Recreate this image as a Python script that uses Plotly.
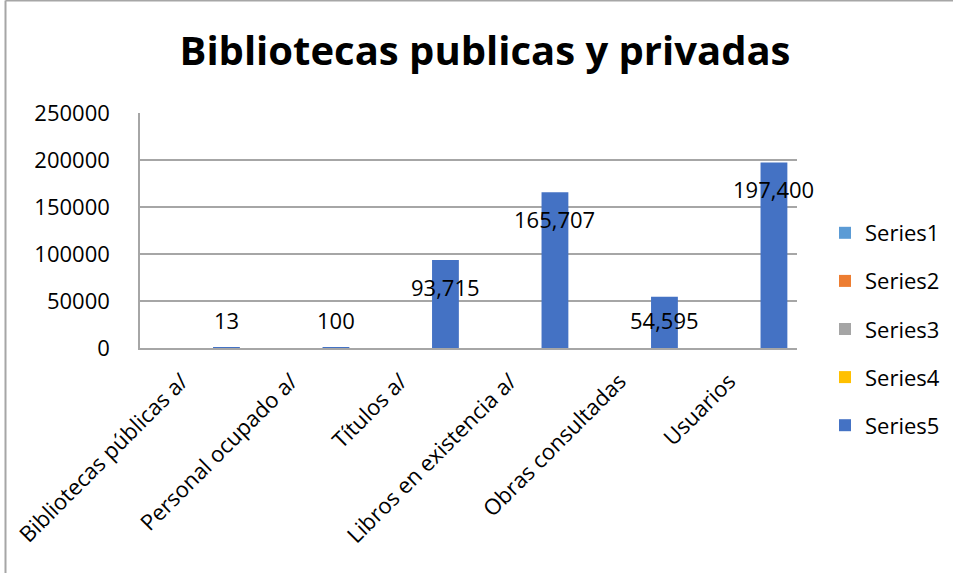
import plotly.graph_objects as go

categories = ["Bibliotecas públicas a/", "Personal ocupado a/", "Títulos a/",
              "Libros en existencia a/", "Obras consultadas", "Usuarios"]
series1 = [None, None, None, None, None, None]
series2 = [None, None, None, None, None, None]
series3 = [None, None, None, None, None, None]
series4 = [None, None, None, None, None, None]
series5 = [13, 100, 93715, 165707, 54595, 197400]
y_ticks = [0, 50000, 100000, 150000, 200000, 250000]

FONT = "Open Sans"
colors = ["#5B9BD5", "#ED7D31", "#A5A5A5", "#FFC000", "#4472C4"]
names = ["Series1", "Series2", "Series3", "Series4", "Series5"]
all_series = [series1, series2, series3, series4, series5]

BAR_OFFSET = 0.167
BAR_WIDTH = 0.245

fig = go.Figure()
for i, (nm, vals, col) in enumerate(zip(names, all_series, colors)):
    kw = {}
    if nm == "Series5":
        kw = dict(offset=BAR_OFFSET, width=BAR_WIDTH)
    fig.add_trace(go.Bar(
        x=list(range(len(categories))), y=vals, name=nm, marker_color=col,
        marker_line_width=0, legendgroup=nm, hoverinfo="skip", **kw))

# data labels (Excel-style "inside end", clamped near the axis for tiny bars)
for i, v in enumerate(series5):
    fig.add_annotation(
        x=i + BAR_OFFSET + BAR_WIDTH / 2, y=max(v - 28700, 29800),
        text=f"{v:,}", showarrow=False, xanchor="center", yanchor="middle",
        font=dict(family=FONT, size=22, color="#000000"))

W, H = 953, 573
L, R, T, B = 140, 156, 113, 225
pw, ph = W - L - R, H - T - B

# outer chart border (left and top visible)
fig.add_shape(type="line", xref="paper", yref="paper",
              x0=(5.5 - L) / pw, x1=(5.5 - L) / pw, y0=(H - B - H - 5) / ph, y1=(H - B - 0.5) / ph,
              line=dict(color="#A6A6A6", width=2))
fig.add_shape(type="line", xref="paper", yref="paper",
              x0=(5.5 - L) / pw, x1=(W + 5 - L) / pw, y0=(H - B - 0.5) / ph, y1=(H - B - 0.5) / ph,
              line=dict(color="#A6A6A6", width=2))

fig.update_layout(
    width=W, height=H,
    margin=dict(l=L, r=R, t=T, b=B, autoexpand=False),
    paper_bgcolor="white", plot_bgcolor="white",
    barmode="overlay",
    title=dict(text="<b>Bibliotecas publicas y privadas</b>", x=(485) / W, xanchor="center",
               y=1 - 51 / H, yanchor="middle", yref="container",
               font=dict(family=FONT, size=40, color="#000000")),
    font=dict(family=FONT, size=22, color="#000000"),
    showlegend=True,
    legend=dict(x=(825 - L) / pw, xanchor="left", y=(H - B - 212) / ph, yanchor="top",
                traceorder="grouped", tracegroupgap=16.5,
                font=dict(family=FONT, size=22, color="#000000"),
                bgcolor="rgba(0,0,0,0)"),
    xaxis=dict(
        range=[-0.5, len(categories) - 0.5],
        tickmode="array", tickvals=list(range(len(categories))), ticktext=categories,
        tickangle=-45, showgrid=False, zeroline=False,
        showline=True, linecolor="#A6A6A6", linewidth=1.5,
        ticks="", ticklabelstandoff=10, ticklabelshift=-13,
        tickfont=dict(family=FONT, size=22, color="#000000")),
    yaxis=dict(
        range=[0, 250000], tickmode="array", tickvals=y_ticks,
        ticktext=[str(t) for t in y_ticks],
        showgrid=True, gridcolor="#A6A6A6", gridwidth=1.5, zeroline=False,
        showline=True, linecolor="#A6A6A6", linewidth=1.5,
        ticks="", ticklabelstandoff=24,
        tickfont=dict(family=FONT, size=22, color="#000000")),
)

fig.write_html("out.html", config={"displayModeBar": False},
               post_script="document.body.style.margin='0';document.body.style.overflow='hidden';")
